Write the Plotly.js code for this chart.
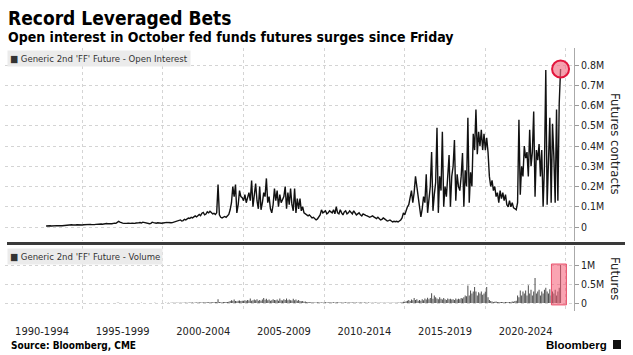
<!DOCTYPE html>
<html>
<head>
<meta charset="utf-8">
<script src="https://cdn.plot.ly/plotly-3.0.1.min.js"></script>
<style>html,body{margin:0;padding:0;background:#fff;}#chart{width:633px;height:355px;}</style>
</head>
<body>
<div id="chart"></div>
<script>
// Generic 2nd 'FF' Future - Open Interest, monthly, thousands of contracts, from Oct 1992
const oiStartYear = 1992.75;
const openInterest = [
  5, 6, 5,
  6, 5, 6, 7, 6, 7, 6, 8, 7, 6, 7, 8,
  8, 9, 10, 9, 11, 10, 9, 10, 11, 10, 9, 10,
  10, 11, 12, 10, 11, 12, 13, 12, 11, 12, 13, 14,
  13, 14, 15, 14, 16, 15, 17, 16, 18, 17, 16, 18,
  19, 18, 22, 28, 24, 20, 19, 18, 17, 18, 19, 17,
  18, 19, 17, 18, 20, 19, 21, 22, 20, 24, 22, 20,
  18, 17, 16, 18, 24, 22, 20, 19, 21, 20, 18, 19,
  20, 22, 21, 23, 22, 20, 21, 22, 24, 26, 28, 30,
  33, 35, 30, 32, 38, 35, 40, 44, 42, 48, 45, 52,
  55, 50, 58, 62, 56, 68, 72, 60, 64, 75, 70, 78,
  72, 65, 68, 62, 70, 210, 60, 48, 45, 50, 52, 48,
  55, 62, 85, 120, 200, 150, 210, 70, 110, 180, 150, 145,
  130, 160, 120, 140, 170, 130, 230, 100, 150, 215, 130, 90,
  200, 85, 120, 170, 150, 240, 120, 150, 90, 70, 110, 190,
  130, 180, 100, 160, 120, 140, 150, 200, 90, 170, 110, 190,
  110, 80, 190, 70, 140, 90, 140, 80, 100, 70, 65, 60,
  55, 60, 50, 45, 48, 42, 35, 40, 50, 60, 85, 70,
  75, 80, 65, 70, 80, 75, 70, 85, 65, 100, 70, 65,
  85, 70, 60, 75, 80, 65, 70, 80, 70, 65, 80, 70,
  60, 65, 70, 60, 55, 65, 60, 58, 55, 50, 48, 52,
  55, 50, 45, 42, 48, 40, 35, 38, 45, 40, 35, 30,
  32, 35, 30, 25, 28, 26, 28, 25, 30, 35, 45, 70,
  60, 85, 100, 110, 150, 180, 120, 170, 250, 200, 140, 90,
  50, 90, 150, 120, 260, 70, 130, 200, 370, 80, 160, 220,
  490, 70, 250, 180, 470, 100, 200, 150, 250, 355, 100, 250,
  300, 430, 130, 260, 200, 180, 250, 365, 100, 280, 200, 540,
  120, 270, 200, 460, 380, 580, 360, 470, 400, 480, 380, 460,
  380, 440, 370, 250, 200, 230, 180, 200, 150, 170, 120, 180,
  140, 170, 130, 160, 110, 100, 130, 100, 120, 95, 90, 85,
  120, 530, 160, 300, 250, 400, 340, 370, 250, 480, 300, 370,
  570, 150, 380, 330, 410, 250, 380, 100, 300, 775, 110, 350,
  540, 120, 510, 350, 120, 580, 130, 610, 780
];

// Generic 2nd 'FF' Future - Volume, monthly, thousands of contracts, from Jan 1995
const volStartYear = 1995.0;
const volume = [
  0, 0, 2, 0, 0, 3, 0, 0, 0, 2, 0, 0,
  0, 2, 0, 0, 3, 0, 0, 2, 0, 0, 0, 3,
  0, 0, 4, 6, 3, 0, 0, 2, 0, 0, 3, 0,
  2, 0, 0, 3, 0, 2, 0, 0, 4, 0, 2, 0,
  0, 3, 0, 2, 0, 0, 4, 0, 0, 2, 0, 3,
  3, 2, 4, 3, 5, 3, 4, 6, 5, 4, 6, 5,
  6, 8, 7, 10, 8, 12, 9, 10, 14, 11, 12, 10,
  12, 15, 11, 18, 14, 16, 20, 15, 18, 22, 17, 20,
  18, 22, 20, 25, 30, 100, 30, 22, 20, 25, 28, 24,
  30, 35, 50, 70, 60, 90, 55, 45, 60, 65, 50, 60,
  55, 70, 60, 80, 65, 120, 60, 75, 90, 70, 100, 60,
  80, 60, 90, 130, 85, 110, 70, 95, 60, 75, 100, 80,
  70, 90, 60, 120, 75, 65, 100, 80, 120, 70, 90, 75,
  65, 110, 70, 90, 60, 80, 55, 45, 50, 35, 40, 30,
  25, 20, 18, 22, 15, 12, 14, 18, 20, 15, 16, 12,
  15, 18, 14, 20, 16, 22, 15, 18, 14, 20, 17, 15,
  14, 12, 16, 13, 18, 12, 15, 14, 12, 16, 13, 12,
  12, 10, 14, 11, 13, 10, 12, 11, 10, 12, 10, 9,
  10, 9, 11, 8, 10, 9, 8, 10, 9, 8, 9, 8,
  8, 9, 7, 8, 10, 8, 9, 12, 10, 15, 20, 35,
  30, 45, 60, 80, 55, 90, 70, 130, 80, 100, 60, 80,
  60, 100, 70, 120, 90, 140, 100, 130, 255, 110, 200, 150,
  120, 100, 150, 110, 90, 130, 100, 80, 120, 100, 110, 90,
  100, 80, 120, 90, 110, 100, 130, 120, 150, 200, 180, 460,
  200, 330, 250, 300, 420, 300, 200, 280, 250, 300, 220, 250,
  300, 420, 150, 80, 50, 40, 30, 35, 40, 30, 25, 30,
  25, 30, 20, 25, 30, 20, 25, 30, 40, 35, 50, 60,
  200, 150, 330, 200, 300, 250, 330, 200, 470, 250, 350, 200,
  300, 660, 250, 300, 350, 200, 300, 250, 350, 400, 300, 250,
  360, 200, 300, 250, 350, 200, 300, 400, 1000
];

const periodLabels = ['1990-1994', '1995-1999', '2000-2004', '2005-2009', '2010-2014', '2015-2019', '2020-2024'];
const periodMids = [1992.5, 1997.5, 2002.5, 2007.5, 2012.5, 2017.5, 2022.5];
const periodBounds = [1995, 2000, 2005, 2010, 2015, 2020, 2025];
const oiTickVals = [0, 100, 200, 300, 400, 500, 600, 700, 800];
const oiTickText = ['0', '0.1M', '0.2M', '0.3M', '0.4M', '0.5M', '0.6M', '0.7M', '0.8M'];
const volTickVals = [0, 500, 1000];
const volTickText = ['0', '0.5M', '1M'];

const oiYears = openInterest.map((v, i) => oiStartYear + i / 12);
const volYears = volume.map((v, i) => volStartYear + i / 12);
const lastX = oiYears[oiYears.length - 1];
const lastY = openInterest[openInterest.length - 1];

const W = 633, H = 355;
const px = v => v / W;
const py = v => (H - v) / H;

const FONT = '"DejaVu Sans Condensed", "DejaVu Sans", sans-serif';
const xRange = [1990.2, 2025.5];
const xDomain = [px(5), px(574)];
const gridCol = '#d4d4d4';

const traces = [
  {x: oiYears, y: openInterest, type: 'scatter', mode: 'lines', xaxis: 'x', yaxis: 'y',
   line: {color: '#111', width: 1.4}, hoverinfo: 'skip'},
  {x: [lastX], y: [lastY], type: 'scatter', mode: 'markers', xaxis: 'x', yaxis: 'y',
   marker: {size: 17, color: 'rgba(240,110,130,0.65)', line: {color: '#e3163d', width: 2}}, hoverinfo: 'skip'},
  {x: volYears, y: volume, type: 'bar', xaxis: 'x2', yaxis: 'y2',
   marker: {color: '#4d4d4d', line: {width: 0}}, hoverinfo: 'skip'}
];

const axisCommonX = {
  range: xRange, domain: xDomain, showline: false, zeroline: false, fixedrange: true
};

const layout = {
  width: W, height: H,
  margin: {l: 0, r: 0, t: 0, b: 0},
  paper_bgcolor: '#fff', plot_bgcolor: '#fff',
  showlegend: false,
  bargap: 0.25,
  font: {family: FONT, color: '#222'},
  xaxis: Object.assign({}, axisCommonX, {
    anchor: 'y', tickmode: 'array', tickvals: periodBounds, showticklabels: false, ticks: '',
    showgrid: true, gridcolor: gridCol, griddash: 'dot', gridwidth: 1
  }),
  yaxis: {
    domain: [py(241), py(48)], range: [-69, 884], anchor: 'x', side: 'right',
    tickmode: 'array', tickvals: oiTickVals, ticktext: oiTickText,
    ticks: 'outside', ticklen: 4, tickcolor: '#999', tickwidth: 1,
    showline: true, linecolor: '#aaa', linewidth: 1,
    showgrid: true, gridcolor: gridCol, griddash: 'dot', zeroline: false,
    tickfont: {size: 10.5, color: '#222', family: FONT}, fixedrange: true
  },
  xaxis2: Object.assign({}, axisCommonX, {
    anchor: 'y2', tickmode: 'array', tickvals: periodMids, ticktext: periodLabels,
    ticks: '', showgrid: false, ticklabelstandoff: 12,
    tickfont: {size: 11, color: '#222', family: FONT},
    minor: {tickmode: 'array', tickvals: periodBounds, showgrid: true, gridcolor: gridCol, griddash: 'dot', gridwidth: 1, ticks: ''}
  }),
  yaxis2: {
    domain: [py(311), py(246)], range: [-210, 1500], anchor: 'x2', side: 'right',
    tickmode: 'array', tickvals: volTickVals, ticktext: volTickText,
    ticks: 'outside', ticklen: 4, tickcolor: '#999', tickwidth: 1,
    showline: true, linecolor: '#aaa', linewidth: 1,
    showgrid: true, gridcolor: gridCol, griddash: 'dot', zeroline: false,
    tickfont: {size: 10.5, color: '#222', family: FONT}, fixedrange: true
  },
  shapes: [
    {type: 'line', xref: 'paper', yref: 'paper', x0: px(7), x1: px(625), y0: py(243.5), y1: py(243.5),
     line: {color: '#3a3a3a', width: 3}},
    {type: 'rect', xref: 'x2', yref: 'y2', x0: 2024.1, x1: 2025.03, y0: -50, y1: 1026, layer: 'above',
     fillcolor: 'rgba(245,90,115,0.55)', line: {color: '#e8506a', width: 1}},
    {type: 'rect', xref: 'paper', yref: 'paper', x0: px(613), x1: px(621), y0: py(349), y1: py(340),
     fillcolor: '#111', line: {width: 0}}
  ],
  annotations: [
    {text: '<b>Record Leveraged Bets</b>', xref: 'paper', yref: 'paper', x: px(6), y: py(5),
     xanchor: 'left', yanchor: 'top', showarrow: false, font: {size: 19, color: '#000', family: FONT}},
    {text: '<b>Open interest in October fed funds futures surges since Friday</b>', xref: 'paper', yref: 'paper',
     x: px(6), y: py(27), xanchor: 'left', yanchor: 'top', showarrow: false, font: {size: 14, color: '#000', family: FONT}},
    {text: '\u25A0 Generic 2nd \'FF\' Future - Open Interest', xref: 'paper', yref: 'paper', x: px(7), y: py(50),
     xanchor: 'left', yanchor: 'top', showarrow: false, bgcolor: '#ebebeb', borderpad: 2,
     font: {size: 9.5, color: '#333', family: FONT}},
    {text: '\u25A0 Generic 2nd \'FF\' Future - Volume', xref: 'paper', yref: 'paper', x: px(7), y: py(248),
     xanchor: 'left', yanchor: 'top', showarrow: false, bgcolor: '#ebebeb', borderpad: 2,
     font: {size: 9.5, color: '#333', family: FONT}},
    {text: 'Futures contracts', xref: 'paper', yref: 'paper', x: px(616), y: py(144), textangle: 90,
     xanchor: 'center', yanchor: 'middle', showarrow: false, font: {size: 13, color: '#222', family: FONT}},
    {text: 'Futures', xref: 'paper', yref: 'paper', x: px(616), y: py(278), textangle: 90,
     xanchor: 'center', yanchor: 'middle', showarrow: false, font: {size: 13, color: '#222', family: FONT}},
    {text: '<b>Source: Bloomberg, CME</b>', xref: 'paper', yref: 'paper', x: px(9), y: py(338),
     xanchor: 'left', yanchor: 'top', showarrow: false, font: {size: 10, color: '#000', family: FONT}},
    {text: '<b>Bloomberg</b>', xref: 'paper', yref: 'paper', x: px(609), y: py(337),
     xanchor: 'right', yanchor: 'top', showarrow: false, font: {size: 11.5, color: '#000', family: '"Liberation Sans", Arial, sans-serif'}}
  ]
};

Plotly.newPlot('chart', traces, layout, {staticPlot: true, displayModeBar: false});
</script>
</body>
</html>
